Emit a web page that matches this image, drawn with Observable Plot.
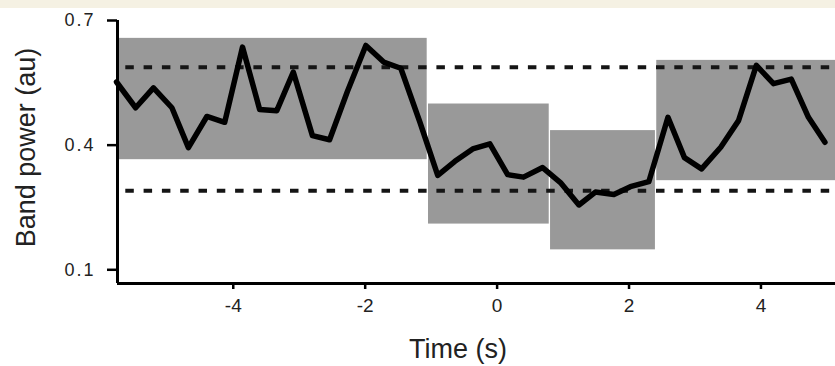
<!DOCTYPE html>
<html>
<head>
<meta charset="utf-8">
<script src="https://cdn.jsdelivr.net/npm/d3@7"></script>
<script src="https://cdn.jsdelivr.net/npm/@observablehq/plot@0.6"></script>
<style>
  html, body { margin: 0; padding: 0; background: #ffffff; }
  #strip { height: 8px; background: #f5f1e3; }
  #chart svg { display: block; }
</style>
</head>
<body>
<div id="strip"></div>
<div id="chart"></div>
<script>
// Time (s) of each sample of the band-power trace
const times = [-5.77, -5.48, -5.21, -4.93, -4.68, -4.40, -4.13, -3.86, -3.60, -3.34,
  -3.09, -2.80, -2.54, -2.27, -1.99, -1.72, -1.46, -1.17, -0.90, -0.64,
  -0.37, -0.11, 0.16, 0.40, 0.69, 0.96, 1.24, 1.49, 1.77, 2.02,
  2.30, 2.59, 2.84, 3.10, 3.39, 3.66, 3.93, 4.19, 4.46, 4.72, 4.97];
// Band power (au)
const power = [0.552, 0.490, 0.538, 0.490, 0.394, 0.469, 0.455, 0.636, 0.486, 0.483,
  0.576, 0.423, 0.413, 0.529, 0.640, 0.600, 0.585, 0.455, 0.327, 0.361,
  0.391, 0.403, 0.329, 0.323, 0.346, 0.310, 0.256, 0.287, 0.281, 0.300,
  0.312, 0.467, 0.370, 0.343, 0.395, 0.459, 0.592, 0.548, 0.559, 0.467, 0.407];

// Gray windows (time span and band-power range)
const winStart = [-5.755, -1.04, 0.81, 2.42];
const winEnd = [-1.06, 0.79, 2.40, 5.2];
const winLow = [0.365, 0.210, 0.148, 0.3145];
const winHigh = [0.657, 0.499, 0.435, 0.604];

// Dashed threshold levels
const thresholds = [0.29, 0.5875];

// Axes
const xDomain = [-5.755, 5.13];
const yDomain = [0.067, 0.7];
const xTicks = [-4, -2, 0, 2, 4];
const yTicks = [0.1, 0.4, 0.7];
const xLabel = "Time (s)";
const yLabel = "Band power (au)";

const trace = times.map((t, i) => ({t, p: power[i]}));
const windows = winStart.map((s, i) => ({s, e: winEnd[i], lo: winLow[i], hi: winHigh[i]}));
const fmtX = d => String(d);
const fmtY = d3.format(".1f");

const chart = Plot.plot({
  width: 835,
  height: 358,
  marginLeft: 117,
  marginRight: 0,
  marginTop: 12,
  marginBottom: 83,
  style: {fontFamily: "'Liberation Sans', Arial, Helvetica, sans-serif", background: "#ffffff", color: "#222"},
  x: {domain: xDomain},
  y: {domain: yDomain},
  marks: [
    Plot.rect(windows, {x1: "s", x2: "e", y1: "lo", y2: "hi", fill: "#999999", clip: true}),
    Plot.ruleY(thresholds, {stroke: "#151515", strokeWidth: 4, strokeDasharray: "8.5,9.8", strokeDashoffset: 10}),
    Plot.line(trace, {x: "t", y: "p", stroke: "#000", strokeWidth: 5.5, strokeLinejoin: "round", strokeLinecap: "round"}),
    Plot.ruleX([xDomain[0]], {stroke: "#000", strokeWidth: 3}),
    Plot.ruleY([yDomain[0]], {stroke: "#000", strokeWidth: 3}),
    Plot.axisX({ticks: xTicks, tickSize: 6, tickPadding: 9, label: null,
      tickFormat: fmtX, stroke: "#000", strokeWidth: 2.5, fill: "#222"}),
    Plot.axisY({ticks: yTicks, tickSize: 10, tickPadding: 12, label: null,
      tickFormat: fmtY, stroke: "#000", strokeWidth: 2.5, fill: "#222"}),
    Plot.text([xLabel], {frameAnchor: "bottom", lineAnchor: "top", dx: -18.5, dy: 55,
      fontSize: 27, fill: "#222", text: d => d}),
    Plot.text([yLabel], {frameAnchor: "left", rotate: -90, textAnchor: "middle", lineAnchor: "middle",
      dx: -91, dy: -4.5, fontSize: 27, fill: "#222", text: d => d})
  ]
});

document.getElementById("chart").appendChild(chart);
const xTickText = new Set(xTicks.map(fmtX));
const yTickText = new Set(yTicks.map(fmtY));
chart.querySelectorAll("text").forEach(node => {
  const s = node.textContent;
  if (xTickText.has(s)) {
    node.setAttribute("font-size", "19");
    node.style.fontSize = "19px";
  } else if (yTickText.has(s)) {
    node.setAttribute("font-size", "18");
    node.style.fontSize = "18px";
    node.style.letterSpacing = "2px";
  }
});
</script>
</body>
</html>
